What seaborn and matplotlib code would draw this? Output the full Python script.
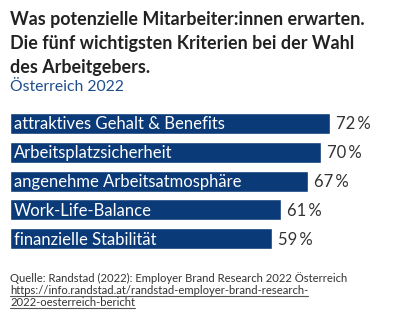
import matplotlib
matplotlib.use("Agg")
import matplotlib.pyplot as plt
import seaborn as sns
import pandas as pd
from matplotlib.lines import Line2D

categories = ["attraktives Gehalt & Benefits", "Arbeitsplatzsicherheit",
              "angenehme Arbeitsatmosphäre", "Work-Life-Balance", "finanzielle Stabilität"]
values = [72, 70, 67, 61, 59]
value_labels = ["72\u2009%", "70\u2009%", "67\u2009%", "61\u2009%", "59\u2009%"]

title = "Was potenzielle Mitarbeiter:innen erwarten.\nDie fünf wichtigsten Kriterien bei der Wahl\ndes Arbeitgebers."
subtitle = "Österreich 2022"
source = "Quelle: Randstad (2022): Employer Brand Research 2022 Österreich"
link1 = "https://info.randstad.at/randstad-employer-brand-research-"
link2 = "2022-oesterreich-bericht"

sns.set_theme(style="white")
plt.rcParams["font.family"] = ["Lato", "DejaVu Sans"]

W, H = 400, 321
fig = plt.figure(figsize=(W / 100, H / 100), dpi=100)
fig.patch.set_facecolor("white")

navy = "#0b3a78"
ppu = 320 / 72.0
left_px = 10
ax_w_px = W - left_px
pitch = 28.8
top_px = 123.5 - pitch / 2
ax_h_px = pitch * 5
ax = fig.add_axes([left_px / W, 1 - (top_px + ax_h_px) / H, ax_w_px / W, ax_h_px / H])

df = pd.DataFrame({"cat": categories, "val": values})
sns.barplot(data=df, x="val", y="cat", orient="h", color=navy, width=0.73,
            saturation=1, ax=ax)
ax.set_xlim(0, ax_w_px / ppu)
ax.set_ylim(4.5, -0.5)
ax.axis("off")

for i, (c, v, lab) in enumerate(zip(categories, values, value_labels)):
    ax.text(0.9, i + 0.03, c, color="white", fontsize=12, va="center", ha="left")
    ax.text(v + 1.4, i + 0.03, lab, color="#333333", fontsize=12, va="center", ha="left")

fig.text(10 / W, 1 - 10.5 / H, title, fontsize=12.9, fontweight="bold", color="#222222",
         va="top", ha="left", linespacing=1.5)
fig.text(10 / W, 1 - 80 / H, subtitle, fontsize=11.3, color="#1f4e8c", va="top", ha="left")

fs = 8.1
fig.text(10 / W, 1 - 272 / H, source, fontsize=fs, color="#333333", va="top", ha="left")
t1 = fig.text(10 / W, 1 - 284.5 / H, link1, fontsize=fs, color="#333333", va="top", ha="left")
t2 = fig.text(10 / W, 1 - 297 / H, link2, fontsize=fs, color="#333333", va="top", ha="left")

fig.canvas.draw()
r = fig.canvas.get_renderer()
for t in (t1, t2):
    bb = t.get_window_extent(r)
    y = (bb.y0 - 0.3) / H
    fig.add_artist(Line2D([bb.x0 / W, bb.x1 / W], [y, y], color="#555555", lw=0.8,
                          transform=fig.transFigure))

fig.savefig("out.png", dpi=100, facecolor="white")
